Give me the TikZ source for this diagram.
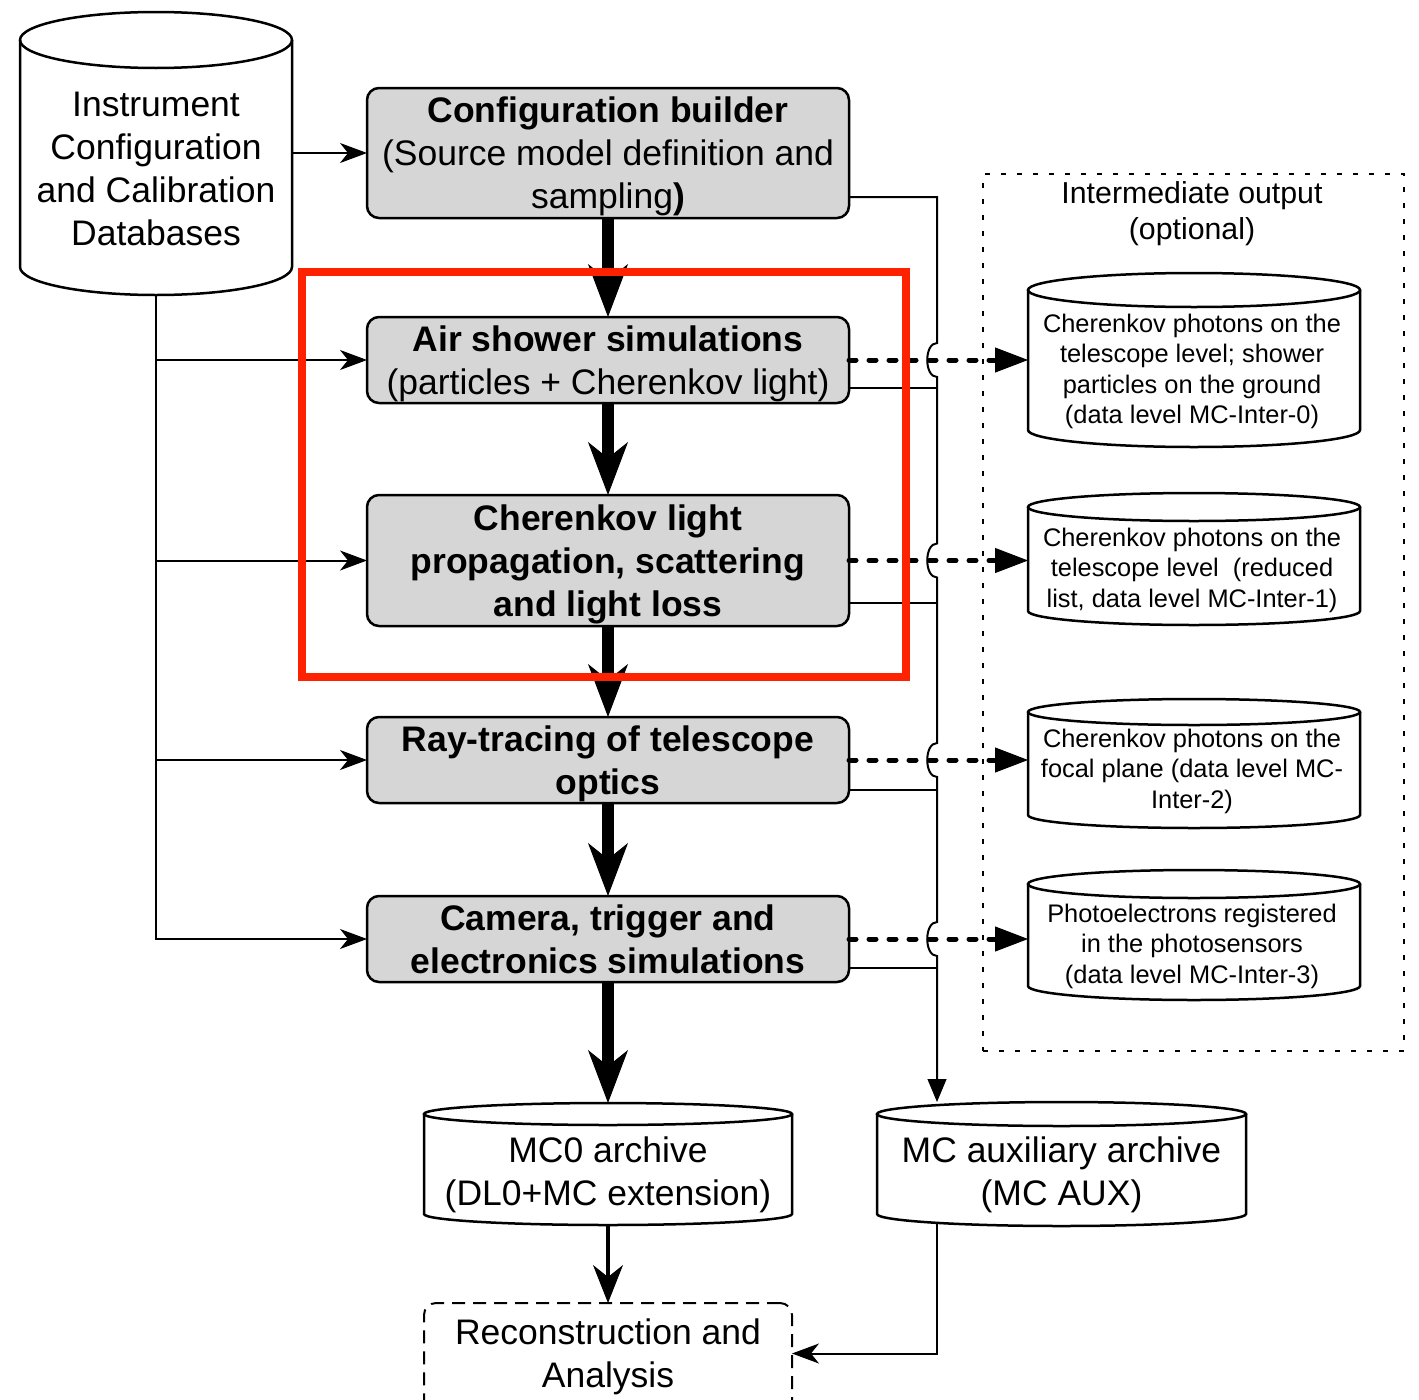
\documentclass[tikz,border=0pt]{standalone}
\usepackage{fontspec}
\setmainfont{Liberation Sans}
\usetikzlibrary{arrows.meta,calc}
\definecolor{boxgray}{RGB}{214,214,214}
\definecolor{hired}{RGB}{255,34,0}
\newcommand\bigtxt{\fontsize{35.5}{43}\selectfont}
\newcommand\midtxt{\fontsize{30.3}{36}\selectfont}
\newcommand\smalltxt{\fontsize{25.4}{30.5}\selectfont}
\newcommand\bstrut{\rule[-8pt]{0pt}{41.4pt}}
\newcommand\mstrut{\rule[-6.8pt]{0pt}{35.3pt}}
\newcommand\sstrut{\rule[-5.7pt]{0pt}{29.6pt}}
\newcommand\cylnode[6]{% name, x1, x2, ytop, ybot, ry
  \pgfmathsetmacro\cylrx{((#3)-(#2))/2}%
  \pgfmathsetmacro\cylcx{((#3)+(#2))/2}%
  \pgfmathsetmacro\cylcy{((#4)+(#5))/2}%
  \pgfmathsetmacro\cylw{(#3)-(#2)}%
  \pgfmathsetmacro\cylh{(#5)-(#4)}%
  \node[inner sep=0pt, outer sep=0pt, minimum width=\cylw pt, minimum height=\cylh pt] (#1) at (\cylcx,\cylcy) {};
  \draw[cylline] (#2,{#4+#6}) -- (#2,{#5-#6}) arc[start angle=180,end angle=360,x radius=\cylrx pt,y radius=#6pt] -- (#3,{#4+#6});
  \draw[cylline] (\cylcx,{#4+#6}) ellipse[x radius=\cylrx pt, y radius=#6pt];
}
\begin{document}
\begin{tikzpicture}[x=1pt,y=-1pt,
  pbox/.style={draw, line width=2.5pt, rounded corners=12pt, fill=boxgray, minimum width=482pt, inner sep=0pt, outer sep=0pt, align=center, font=\bigtxt},
  cylline/.style={line width=2.5pt},
  lbl/.style={align=center, inner sep=0pt},
  thickarrow/.style={line width=12pt, -{Stealth[length=53pt,width=40pt,inset=16pt,line width=1pt]}},
  medarrow/.style={line width=4.5pt, -{Stealth[length=38pt,width=30pt,inset=12pt,line width=1pt]}},
  thinarrow/.style={line width=2pt, -{Stealth[length=27pt,width=20pt,inset=8pt,line width=1pt]}},
  busline/.style={line width=2pt},
  tapline/.style={line width=1.3pt},
  dotarrow/.style={line width=5pt, line cap=round, dash pattern=on 7pt off 13pt, -{Triangle[length=33pt,width=25pt,line width=1pt]}},
  dotbox/.style={draw, line width=2.5pt, dash pattern=on 5pt off 11pt},
  dashbox/.style={draw, line width=2pt, dash pattern=on 13pt off 8pt, rounded corners=12pt},
]
\useasboundingbox (0,0) rectangle (1419,1400);
\clip (0,0) rectangle (1419,1400);

% intermediate output frame
\node[dotbox, minimum width=421pt, minimum height=877pt, inner sep=0pt, outer sep=0pt] (inter) at (1193.5,612.5) {};
\node[lbl,font=\midtxt] (interlabel) at (1192,211) {\mstrut Intermediate output\\\mstrut(optional)};

% database cylinder
\cylnode{db}{20}{292}{12}{295}{28}
\node[lbl,font=\bigtxt] (dblabel) at (156,168) {\bstrut Instrument\\Configuration\\and Calibration\\\bstrut Databases};

% process boxes
\node[pbox, minimum height=130pt] (cfg) at (608,153) {\bstrut\textbf{Configuration builder}\\(Source model definition and\\\bstrut sampling\textbf{)}};
\node[pbox, minimum height=86pt] (air) at (608,360) {\bstrut\textbf{Air shower simulations}\\\bstrut(particles + Cherenkov light)};
\node[pbox, minimum height=131pt, font=\bigtxt\bfseries] (ch) at (608,560.5) {\bstrut Cherenkov light\\propagation, scattering\\\bstrut and light loss};
\node[pbox, minimum height=86pt, font=\bigtxt\bfseries] (ray) at (608,760) {\bstrut Ray-tracing of telescope\\\bstrut optics};
\node[pbox, minimum height=86pt, font=\bigtxt\bfseries] (cam) at (608,939) {\bstrut Camera, trigger and\\\bstrut electronics simulations};

% archives
\cylnode{mc0}{424}{792}{1103}{1225}{11}
\node[lbl,font=\bigtxt] (mc0label) at (608,1171.5) {\bstrut MC0 archive\\\bstrut(DL0+MC extension)};
\cylnode{aux}{877}{1246}{1102}{1226}{12}
\node[lbl,font=\bigtxt] (auxlabel) at (1061.5,1171.5) {\bstrut MC auxiliary archive\\\bstrut(MC AUX)};

% reconstruction
\node[dashbox, minimum width=368pt, minimum height=130pt, inner sep=0pt, outer sep=0pt] (recon) at (608,1368) {};
\node[lbl,font=\bigtxt] (reconlabel) at (608,1353.5) {\bstrut Reconstruction and\\\bstrut Analysis};

% intermediate cylinders
\cylnode{c0}{1028}{1360}{273}{447}{17}
\node[lbl,font=\smalltxt] (c0label) at (1192,369) {\sstrut Cherenkov photons on the\\telescope level; shower\\particles on the ground\\\sstrut(data level MC-Inter-0)};
\cylnode{c1}{1028}{1360}{493}{625}{14}
\node[lbl,font=\smalltxt] (c1label) at (1192,567.5) {\sstrut Cherenkov photons on the\\telescope level\ \ (reduced\\\sstrut list, data level MC-Inter-1)};
\cylnode{c2}{1028}{1360}{699}{828}{13}
\node[lbl,font=\smalltxt] (c2label) at (1192,768.5) {\sstrut Cherenkov photons on the\\focal plane (data level MC-\\\sstrut Inter-2)};
\cylnode{c3}{1028}{1360}{870}{1000}{14}
\node[lbl,font=\smalltxt] (c3label) at (1192,943.5) {\sstrut Photoelectrons registered\\in the photosensors\\\sstrut(data level MC-Inter-3)};

% database feeds
\draw[thinarrow] (cfg.west -| db.east) -- (cfg.west);
\draw[thinarrow] (db.south) |- (cam.west);
\draw[thinarrow] (db.south |- air.west) -- (air.west);
\draw[thinarrow] (db.south |- ch.west) -- (ch.west);
\draw[thinarrow] (db.south |- ray.west) -- (ray.west);

% main chain
\draw[thickarrow] (cfg.south) -- (air.north);
\draw[thickarrow] (air.south) -- (ch.north);
\draw[thickarrow] (ch.south) -- (ray.north);
\draw[thickarrow] (ray.south) -- (cam.north);
\draw[thickarrow] (cam.south) -- (mc0.north);
\draw[medarrow] (mc0.south) -- (recon.north);

% auxiliary bus with line jumps
\coordinate (bus) at (937,0);
\draw[busline, -{Triangle[length=23pt,width=19pt,line width=1pt]}]
  ([yshift=-44pt]cfg.east) -| (937,343)
  .. controls (924,343) and (924,377) .. (937,377) -- (937,543.5)
  .. controls (924,543.5) and (924,577.5) .. (937,577.5) -- (937,743)
  .. controls (924,743) and (924,777) .. (937,777) -- (937,922)
  .. controls (924,922) and (924,956) .. (937,956) -- (bus |- aux.north);
\draw[tapline] ([yshift=-28pt]air.east) -- ++(88,0);
\draw[tapline] ([yshift=-42.5pt]ch.east) -- ++(88,0);
\draw[tapline] ([yshift=-30pt]ray.east) -- ++(88,0);
\draw[tapline] ([yshift=-29pt]cam.east) -- ++(88,0);

% aux to reconstruction
\coordinate (auxout) at (937,1222);
\draw[thinarrow] (auxout) |- (recon.east |- reconlabel);

% optional outputs
\draw[dotarrow] (air.east) -- (air.east -| c0.west);
\draw[dotarrow] (ch.east) -- (ch.east -| c1.west);
\draw[dotarrow] (ray.east) -- (ray.east -| c2.west);
\draw[dotarrow] (cam.east) -- (cam.east -| c3.west);

% highlight
\node[draw=hired, line width=8pt, minimum width=604pt, minimum height=405pt, inner sep=0pt, outer sep=0pt] (focus) at (604,474.5) {};
\end{tikzpicture}
\end{document}
